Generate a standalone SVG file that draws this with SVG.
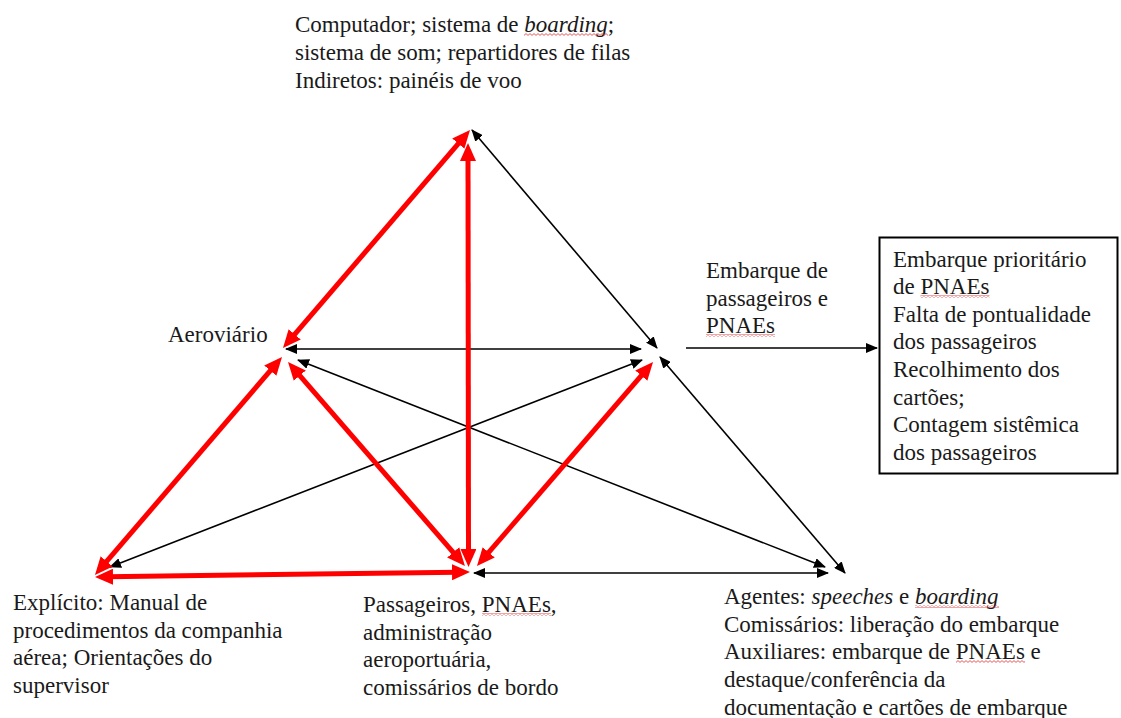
<svg xmlns="http://www.w3.org/2000/svg" width="1121" height="718" viewBox="0 0 1121 718">
  <style>
    text { font-family: "Liberation Serif", "Times New Roman", serif; font-size: 23px; fill: #1a1a1a; }
    .it { font-style: italic; }
    .sq { fill: url(#wave); }
    .blk { stroke: #000; stroke-width: 1.6; fill: none; marker-start: url(#hb); marker-end: url(#hb); }
    .red { stroke: #ff0000; stroke-width: 5; fill: none; marker-start: url(#hr); marker-end: url(#hr); }
  </style>
  <defs>
    <marker id="hb" viewBox="0 0 12 10" refX="11" refY="5" markerWidth="12" markerHeight="10" orient="auto-start-reverse" markerUnits="userSpaceOnUse">
      <path d="M0,0 L12,5 L0,10 z" fill="#000"/>
    </marker>
    <marker id="hr" viewBox="0 0 18 16" refX="6" refY="8" markerWidth="18" markerHeight="16" orient="auto-start-reverse" markerUnits="userSpaceOnUse">
      <path d="M0,0 L18,8 L0,16 z" fill="#ff0000"/>
    </marker>
    <!-- spell-check squiggle -->
    <pattern id="wave" width="4" height="3" patternUnits="userSpaceOnUse">
      <path d="M0,2.4 L2,0.6 L4,2.4" fill="none" stroke="#e03030" stroke-width="0.8"/>
    </pattern>
  </defs>
  <rect width="1121" height="718" fill="#fff"/>

  <!-- relations between the six poles -->
  <g id="connectors">
    <!-- thin black two-way links -->
    <line class="blk" x1="472" y1="130" x2="657" y2="348"/>
    <line class="blk" x1="660" y1="357" x2="845" y2="573"/>
    <line class="blk" x1="286" y1="349" x2="641" y2="349"/>
    <line class="blk" x1="298" y1="360" x2="825" y2="567"/>
    <line class="blk" x1="110" y1="567" x2="642" y2="360"/>
    <line class="blk" x1="474" y1="573" x2="828" y2="573"/>
    <!-- thick red two-way links -->
    <line class="red" x1="462.2" y1="139.1" x2="290.8" y2="338.9"/>
    <line class="red" x1="274.2" y1="366.1" x2="102.8" y2="565.9"/>
    <line class="red" x1="295.9" y1="371.1" x2="457.1" y2="556.9"/>
    <line class="red" x1="468" y1="155" x2="468.5" y2="555"/>
    <line class="red" x1="484.8" y1="556.9" x2="645.2" y2="371.1"/>
    <line class="red" x1="107" y1="576.8" x2="458" y2="572.2"/>
    <!-- outcome arrow -->
    <line x1="686" y1="348" x2="877" y2="348" stroke="#000" stroke-width="1.6" marker-end="url(#hb)"/>
  </g>

  <g id="node-artefatos">
    <text x="295" y="32">Computador; sistema de <tspan class="it">boarding</tspan>;</text>
    <text x="295" y="60">sistema de som; repartidores de filas</text>
    <text x="295" y="88">Indiretos: painéis de voo</text>
    <rect class="sq" x="524" y="33" width="84" height="3"/>
  </g>

  <g id="node-aeroviario">
    <text x="168" y="342">Aeroviário</text>
  </g>

  <g id="node-objeto">
    <text x="706" y="278">Embarque de</text>
    <text x="706" y="306">passageiros e</text>
    <text x="706" y="333">PNAEs</text>
    <rect class="sq" x="706" y="334" width="69" height="3"/>
  </g>

  <g id="node-resultados">
    <rect x="879.5" y="237.5" width="238" height="236" fill="#fff" stroke="#000" stroke-width="2"/>
    <text x="893" y="266.5">Embarque prioritário</text>
    <text x="893" y="294.1">de PNAEs</text>
    <text x="893" y="321.7">Falta de pontualidade</text>
    <text x="893" y="349.3">dos passageiros</text>
    <text x="893" y="376.9">Recolhimento dos</text>
    <text x="893" y="404.5">cartões;</text>
    <text x="893" y="432.1">Contagem sistêmica</text>
    <text x="893" y="459.7">dos passageiros</text>
    <rect class="sq" x="920.5" y="295" width="69" height="3"/>
  </g>

  <g id="node-regras">
    <text x="13" y="610">Explícito: Manual de</text>
    <text x="13" y="638">procedimentos da companhia</text>
    <text x="13" y="665">aérea; Orientações do</text>
    <text x="13" y="693">supervisor</text>
  </g>

  <g id="node-comunidade">
    <text x="363" y="612">Passageiros, PNAEs,</text>
    <text x="363" y="640">administração</text>
    <text x="363" y="667">aeroportuária,</text>
    <text x="363" y="695">comissários de bordo</text>
    <rect class="sq" x="482" y="613" width="69" height="3"/>
  </g>

  <g id="node-divisao">
    <text x="724" y="604">Agentes: <tspan class="it">speeches</tspan> e <tspan class="it">boarding</tspan></text>
    <text x="724" y="632">Comissários: liberação do embarque</text>
    <text x="724" y="659">Auxiliares: embarque de PNAEs e</text>
    <text x="724" y="687">destaque/conferência da</text>
    <text x="724" y="715">documentação e cartões de embarque</text>
    <rect class="sq" x="915" y="605" width="84" height="3"/>
    <rect class="sq" x="956" y="660" width="69" height="3"/>
  </g>
</svg>
